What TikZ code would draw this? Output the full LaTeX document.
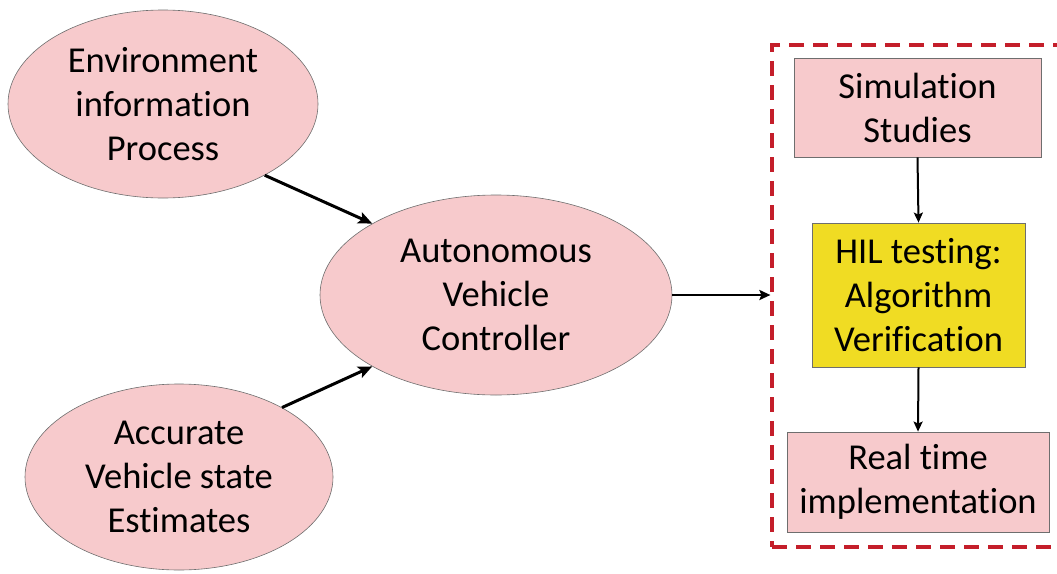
\documentclass[tikz,border=0pt]{standalone}
\usepackage{fontspec}
\setmainfont[Ligatures=NoCommon]{Carlito}
\usetikzlibrary{shapes.geometric,arrows.meta}
\definecolor{pinkfill}{RGB}{247,202,204}
\definecolor{hilyellow}{RGB}{240,220,35}
\definecolor{dashred}{RGB}{196,30,42}
\definecolor{edgegray}{RGB}{110,110,110}
\tikzset{
  txt/.style={align=center,font=\fontsize{36.5}{44}\selectfont,text=black},
  oval/.style={txt,ellipse,draw=edgegray,line width=0.6pt,fill=pinkfill,inner sep=0pt},
  pbox/.style={txt,rectangle,draw=edgegray,line width=0.8pt,fill=pinkfill,inner sep=0pt},
  ybox/.style={txt,rectangle,draw=edgegray,line width=0.8pt,fill=hilyellow,inner sep=0pt},
  bigarrow/.style={line width=3pt,-{Stealth[length=14pt,width=12pt,inset=3pt]}},
  midarrow/.style={line width=2.5pt,-{Stealth[length=11pt,width=10pt,inset=2pt]}},
  smallarrow/.style={line width=2pt,-{Stealth[length=10pt,width=9pt,inset=2pt]}},
  dbox/.style={draw=dashred,line width=3.2pt,dash pattern=on 15pt off 9pt,rectangle,inner sep=0pt}
}
\begin{document}
\begin{tikzpicture}[x=1pt,y=-1pt]
\useasboundingbox (0,0) rectangle (1057,573);
\node[oval,minimum width=310pt,minimum height=188pt] (env) at (163,104) {Environment\\information\\Process};
\node[oval,minimum width=308pt,minimum height=186pt] (acc) at (179,477) {Accurate\\Vehicle state\\Estimates};
\node[oval,minimum width=352pt,minimum height=200pt] (auto) at (496,295) {Autonomous\\Vehicle\\Controller};
\node[dbox,minimum width=293pt,minimum height=502pt] (frame) at (918.5,296) {};
\node[pbox,minimum width=247pt,minimum height=99pt] (sim) at (917.5,107.5) {Simulation\\Studies};
\node[ybox,minimum width=213pt,minimum height=144pt] (hil) at (918.5,295) {HIL testing:\\Algorithm\\Verification};
\node[pbox,minimum width=262pt,minimum height=100pt] (real) at (918,482) {Real time\\implementation};
\draw[bigarrow] (env.-35) -- (auto.150);
\draw[bigarrow] (acc.34) -- (auto.210);
\draw[midarrow] (auto.east) -- (auto.east -| frame.west);
\draw[smallarrow] (sim.south) -- (hil.north);
\draw[smallarrow] (hil.south) -- (real.north);
\end{tikzpicture}
\end{document}
